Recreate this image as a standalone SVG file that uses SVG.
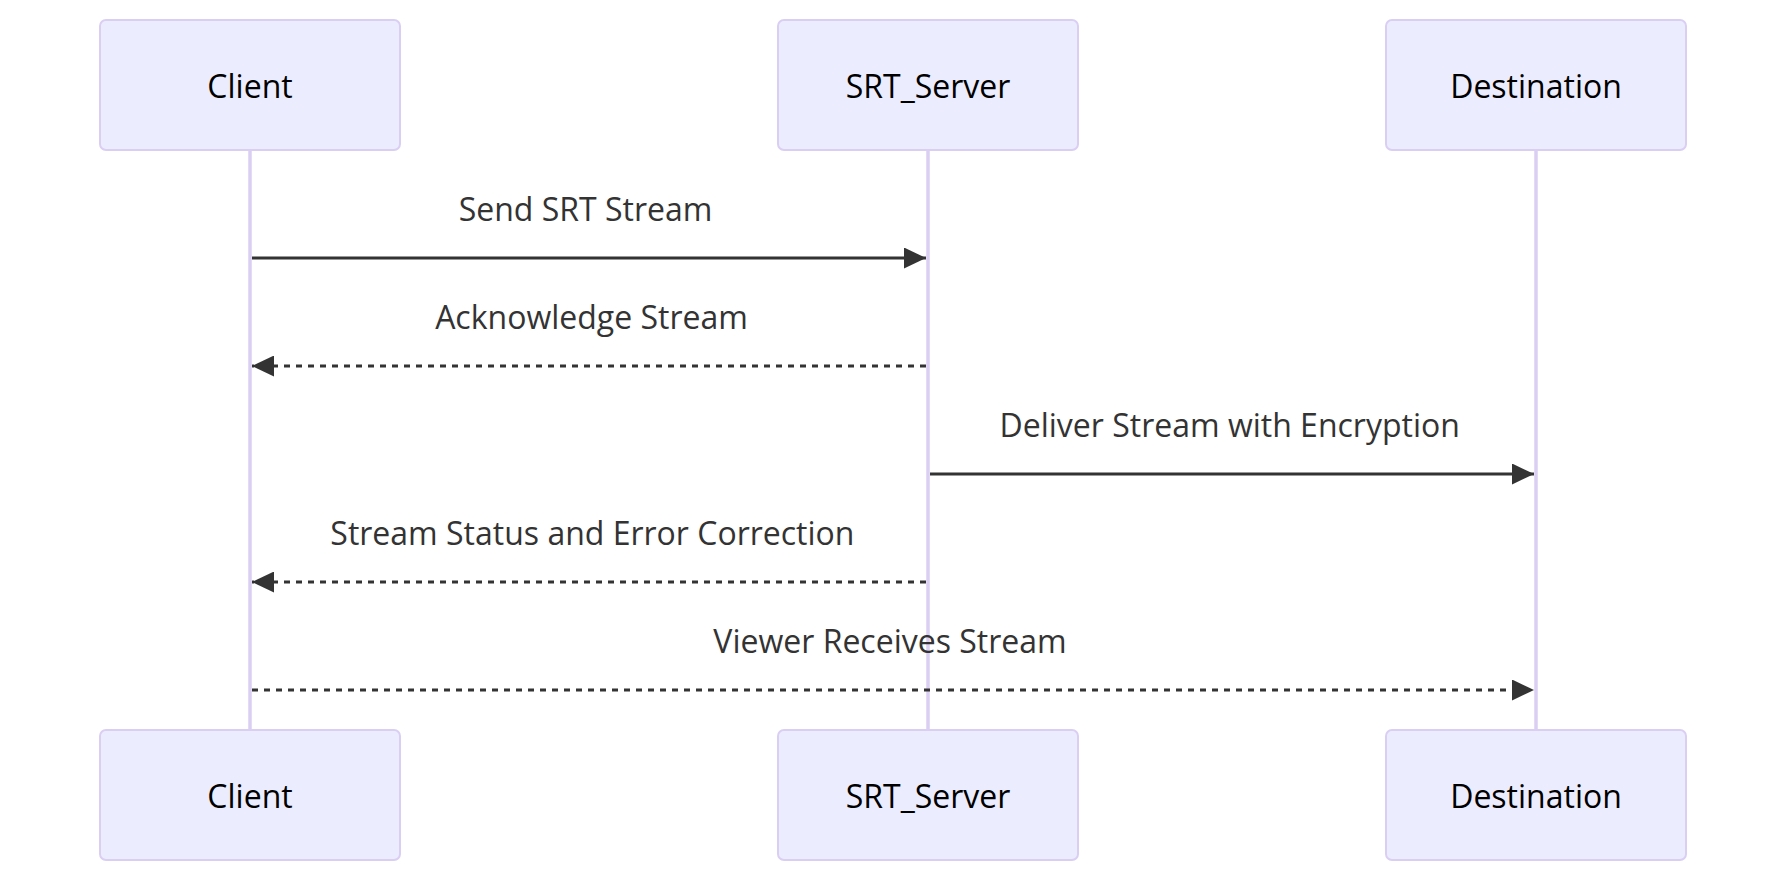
<svg xmlns="http://www.w3.org/2000/svg" width="1786" height="882" viewBox="0 0 1786 882">
<style>
.actor{fill:#ECECFF;stroke:hsl(259.6,59.8%,87.9%);stroke-width:2}
.lifeline{stroke:hsl(259.6,59.8%,87.9%);stroke-width:3.5}
.atext{font-family:"Open Sans","Noto Sans",sans-serif;font-size:32px;fill:#000;text-anchor:middle}
.mtext{font-family:"Open Sans","Noto Sans",sans-serif;font-size:32px;fill:#333;text-anchor:middle}
.msg{stroke:#333;stroke-width:3;fill:none}
.dashed{stroke-dasharray:6,6}
</style>
<defs>
<marker id="arrow" markerUnits="userSpaceOnUse" viewBox="0 0 11 10" markerWidth="22" markerHeight="21" refX="11" refY="5" orient="auto" preserveAspectRatio="none">
<path d="M0,0 L11,5 L0,10 z" fill="#333"/>
</marker>
</defs>
<rect width="1786" height="882" fill="#fff"/>
<g id="lifelines">
<line class="lifeline" x1="250" y1="150" x2="250" y2="730"/>
<line class="lifeline" x1="928" y1="150" x2="928" y2="730"/>
<line class="lifeline" x1="1536" y1="150" x2="1536" y2="730"/>
</g>
<g id="actor-client-top"><rect class="actor" x="100" y="20" width="300" height="130" rx="6"/><text class="atext" x="250" y="97.5">Client</text></g>
<g id="actor-server-top"><rect class="actor" x="778" y="20" width="300" height="130" rx="6"/><text class="atext" x="928" y="97.5">SRT_Server</text></g>
<g id="actor-dest-top"><rect class="actor" x="1386" y="20" width="300" height="130" rx="6"/><text class="atext" x="1536" y="97.5">Destination</text></g>
<g id="actor-client-bottom"><rect class="actor" x="100" y="730" width="300" height="130" rx="6"/><text class="atext" x="250" y="807.5">Client</text></g>
<g id="actor-server-bottom"><rect class="actor" x="778" y="730" width="300" height="130" rx="6"/><text class="atext" x="928" y="807.5">SRT_Server</text></g>
<g id="actor-dest-bottom"><rect class="actor" x="1386" y="730" width="300" height="130" rx="6"/><text class="atext" x="1536" y="807.5">Destination</text></g>
<g id="connectors">
<line class="msg" x1="252" y1="258" x2="926" y2="258" marker-end="url(#arrow)"/>
<text class="mtext" x="585.5" y="221">Send SRT Stream</text>
<line class="msg dashed" x1="926" y1="366" x2="252" y2="366" marker-end="url(#arrow)"/>
<text class="mtext" x="591.5" y="329">Acknowledge Stream</text>
<line class="msg" x1="930" y1="474" x2="1534" y2="474" marker-end="url(#arrow)"/>
<text class="mtext" x="1229.7" y="437">Deliver Stream with Encryption</text>
<line class="msg dashed" x1="926" y1="582" x2="252" y2="582" marker-end="url(#arrow)"/>
<text class="mtext" x="592.4" y="545">Stream Status and Error Correction</text>
<line class="msg dashed" x1="252" y1="690" x2="1534" y2="690" marker-end="url(#arrow)"/>
<text class="mtext" x="890" y="653">Viewer Receives Stream</text>
</g>
</svg>
